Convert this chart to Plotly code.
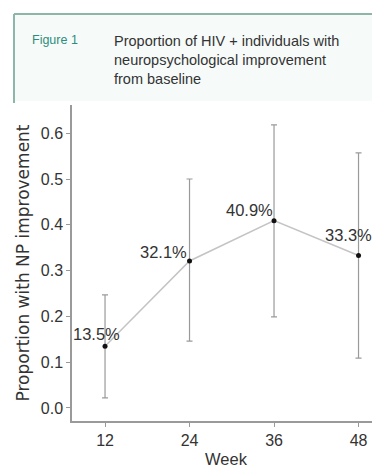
import plotly.graph_objects as go

weeks = [12, 24, 36, 48]
proportion = [0.135, 0.321, 0.409, 0.333]
ci_upper = [0.247, 0.500, 0.618, 0.557]
ci_lower = [0.022, 0.146, 0.199, 0.109]
labels = ["13.5%", "32.1%", "40.9%", "33.3%"]
label_dx = [-9, -26, -25, -10]
label_dy = [12, 9, 11, 20]

err_plus = [u - p for u, p in zip(ci_upper, proportion)]
err_minus = [p - l for p, l in zip(proportion, ci_lower)]

# page offset: browser body margin of 8px
OFF = 8
PL, PR, PT, PB = 72, 380, 105, 421  # plot area in page pixels
PW, PH = PR - PL, PB - PT


def px(xp):
    return (xp - PL) / PW


def py(yp):
    return (PB - yp) / PH


fig = go.Figure()
fig.add_trace(go.Scatter(
    x=weeks, y=proportion, mode="lines+markers",
    line=dict(color="#c4c4c4", width=1.5),
    marker=dict(color="#111111", size=5),
    error_y=dict(type="data", symmetric=False, array=err_plus, arrayminus=err_minus,
                 color="#9a9a9a", thickness=1.2, width=3),
    showlegend=False, hoverinfo="skip",
))

for w, p, t, dx, dy in zip(weeks, proportion, labels, label_dx, label_dy):
    fig.add_annotation(x=w, y=p, text=t, showarrow=False, xshift=dx, yshift=dy,
                       font=dict(family="Liberation Sans, Arial", size=16.5, color="#333333"))

font = dict(family="Liberation Sans, Arial", size=16, color="#333333")

fig.update_layout(
    width=380 - OFF, height=468 - OFF,
    margin=dict(l=PL - OFF, r=0, t=PT - OFF, b=468 - PB),
    paper_bgcolor="white", plot_bgcolor="white",
    font=font,
    xaxis=dict(range=[7.31, 51.05], tickvals=weeks, ticktext=[str(w) for w in weeks],
               showgrid=False, zeroline=False, showline=True, linecolor="#9a9a9a", linewidth=1.5,
               ticks="outside", ticklen=4, tickcolor="#9a9a9a",
               title=dict(text="Week", standoff=7,
                          font=dict(family="Liberation Sans, Arial", size=16.5, color="#333333"))),
    yaxis=dict(range=[-0.0284, 0.6616], tickvals=[0, 0.1, 0.2, 0.3, 0.4, 0.5, 0.6],
               ticktext=["0.0", "0.1", "0.2", "0.3", "0.4", "0.5", "0.6"],
               showgrid=False, zeroline=False, showline=True, linecolor="#9a9a9a", linewidth=1.5,
               ticks="outside", ticklen=4, tickcolor="#9a9a9a",
               title=dict(text="Proportion with NP improvement", standoff=7,
                          font=dict(family="DejaVu Sans", size=17, color="#333333"))),
)

# header box
fig.add_shape(type="rect", xref="paper", yref="paper", x0=px(14), x1=1.0,
              y0=py(101), y1=py(14), line=dict(width=0), fillcolor="#f6fbfa", layer="below")
fig.add_shape(type="line", xref="paper", yref="paper", x0=px(14), x1=1.0,
              y0=py(14), y1=py(14), line=dict(color="#8db5aa", width=2))
fig.add_shape(type="line", xref="paper", yref="paper", x0=px(14), x1=px(14),
              y0=py(14), y1=py(103), line=dict(color="#8db5aa", width=2))

fig.add_annotation(xref="paper", yref="paper", x=px(30), y=py(40),
                   xanchor="left", yanchor="middle", showarrow=False, text="Figure 1",
                   font=dict(family="Liberation Sans", size=12.5, color="#2f8c7c"))
fig.add_annotation(xref="paper", yref="paper", x=px(112), y=py(60),
                   xanchor="left", yanchor="middle", showarrow=False, align="left",
                   text="Proportion of HIV + individuals with<br>neuropsychological improvement<br>from baseline",
                   font=dict(family="Liberation Sans", size=14.5, color="#333333"))

fig.write_html("out.html")
